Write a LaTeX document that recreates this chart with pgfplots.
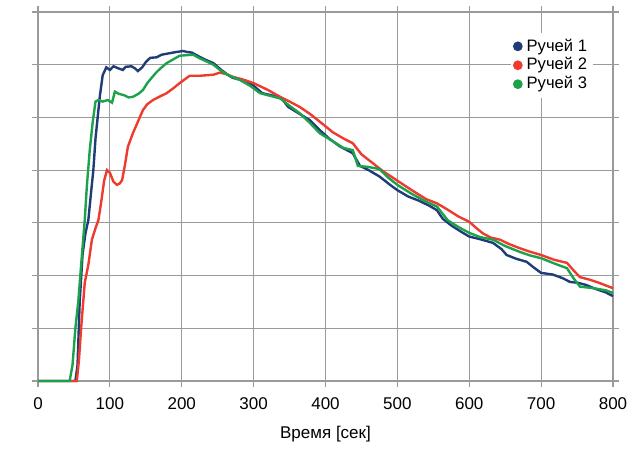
\documentclass[border=0pt]{standalone}
\usepackage{fontspec}
\setmainfont{Liberation Sans}
\usepackage{pgfplots}
\pgfplotsset{compat=1.18}
\definecolor{c1}{HTML}{1F3C78}
\definecolor{c2}{HTML}{EE3B2E}
\definecolor{c3}{HTML}{1DA24B}
\definecolor{gridc}{HTML}{9A9A9A}
\begin{document}
\begin{tikzpicture}
\begin{axis}[
  scale only axis, width=287.5pt, height=184.5pt,
  xmin=0, xmax=800, ymin=0, ymax=7,
  xtick={0,100,...,800}, ytick={0,1,...,7},
  yticklabels={},
  grid=major,
  major grid style={gridc, line width=0.6pt},
  axis line style={draw=none},
  tick style={gridc, line width=0.6pt},
  tick align=outside, major tick length=3pt,
  /pgf/number format/assume math mode=true,
  ticklabel style={font=\fontsize{8.5}{10}\selectfont},
  xticklabel style={yshift=-2pt},
  xlabel={Время [сек]},
  xlabel style={font=\fontsize{8.5}{10}\selectfont, yshift=-1pt},
  clip=false,
  legend style={draw=none, fill=white, at={(0.822,0.945)}, anchor=north west,
    font=\fontsize{8.3}{9}\selectfont, inner sep=1pt, row sep=-2.2pt},
  legend cell align=left,
  legend image code/.code={\fill[#1] (0.12cm,0) circle (1.8pt);},
  every axis plot/.append style={line width=1.2pt},
]
\draw[gridc, line width=1.2pt] (rel axis cs:0,0) -- (rel axis cs:1,0);
\addplot[c1, mark=none] coordinates {
(0,0)(52,0)(55,0.3)(58,1.5)(62,2.4)(66,2.8)(70,3.05)(74,3.6)(77,4.0)(80,4.6)(83,5.0)(86,5.4)(90,5.8)(95,5.95)(100,5.9)(105,5.97)(112,5.93)(118,5.9)(122,5.96)(130,5.97)(135,5.93)(139,5.88)(145,5.95)(150,6.05)(156,6.13)(165,6.14)(172,6.19)(184,6.22)(192,6.24)(202,6.26)(208,6.24)(214,6.23)(222,6.17)(232,6.1)(244,6.03)(255,5.9)(265,5.8)(271,5.75)(280,5.72)(290,5.69)(300,5.6)(312,5.46)(325,5.42)(339,5.36)(348,5.2)(360,5.1)(378,4.95)(392,4.76)(405,4.6)(420,4.45)(438,4.32)(448,4.08)(460,4.0)(475,3.88)(490,3.72)(500,3.62)(515,3.5)(530,3.42)(545,3.32)(555,3.24)(563,3.08)(575,2.95)(590,2.82)(600,2.74)(615,2.69)(633,2.62)(645,2.5)(652,2.39)(665,2.32)(680,2.26)(690,2.15)(700,2.05)(716,2.02)(730,1.95)(740,1.88)(752,1.86)(763,1.82)(775,1.75)(790,1.68)(800,1.61)
};
\addlegendentry{Ручей 1}
\addplot[c2, mark=none] coordinates {
(0,0)(54,0)(57,0.4)(60,1.0)(65,1.86)(70,2.2)(75,2.68)(80,2.9)(84,3.05)(88,3.4)(92,3.8)(96,4.0)(100,3.95)(105,3.78)(110,3.72)(114,3.75)(117,3.81)(121,4.1)(125,4.44)(132,4.7)(140,4.95)(146,5.14)(152,5.25)(160,5.33)(170,5.4)(179,5.46)(188,5.55)(197,5.65)(204,5.72)(211,5.79)(225,5.79)(244,5.81)(253,5.85)(262,5.82)(271,5.77)(285,5.72)(300,5.65)(320,5.52)(337,5.39)(350,5.3)(364,5.2)(378,5.07)(392,4.92)(410,4.72)(425,4.6)(438,4.51)(450,4.3)(466,4.13)(480,3.98)(500,3.8)(520,3.62)(540,3.45)(555,3.37)(570,3.25)(585,3.12)(600,3.02)(610,2.9)(619,2.8)(630,2.72)(643,2.68)(655,2.6)(670,2.52)(685,2.45)(700,2.39)(718,2.3)(736,2.24)(745,2.1)(754,1.97)(768,1.92)(781,1.86)(800,1.76)
};
\addlegendentry{Ручей 2}
\addplot[c3, mark=none] coordinates {
(0,0)(44,0)(48,0.3)(52,1.0)(56,1.5)(60,2.2)(65,3.05)(68,3.7)(72,4.38)(76,4.9)(80,5.3)(84,5.33)(90,5.3)(97,5.33)(103,5.28)(107,5.49)(112,5.45)(120,5.42)(126,5.38)(132,5.39)(140,5.45)(146,5.52)(152,5.65)(158,5.75)(165,5.86)(172,5.95)(179,6.03)(188,6.1)(197,6.17)(206,6.18)(216,6.19)(225,6.12)(235,6.06)(244,6.0)(255,5.88)(265,5.8)(281,5.71)(295,5.6)(309,5.46)(320,5.42)(337,5.36)(350,5.22)(364,5.08)(378,4.9)(392,4.7)(410,4.55)(425,4.42)(438,4.38)(445,4.08)(460,4.06)(475,4.02)(488,3.85)(500,3.72)(520,3.55)(540,3.4)(555,3.31)(570,3.05)(585,2.92)(600,2.81)(615,2.73)(633,2.68)(650,2.56)(670,2.45)(685,2.38)(700,2.33)(720,2.22)(736,2.14)(745,1.95)(754,1.79)(773,1.76)(790,1.72)(800,1.67)
};
\addlegendentry{Ручей 3}
\path (rel axis cs:-0.0661,-0.1734) rectangle (rel axis cs:1.047,1.0325);
\end{axis}
\end{tikzpicture}
\end{document}
